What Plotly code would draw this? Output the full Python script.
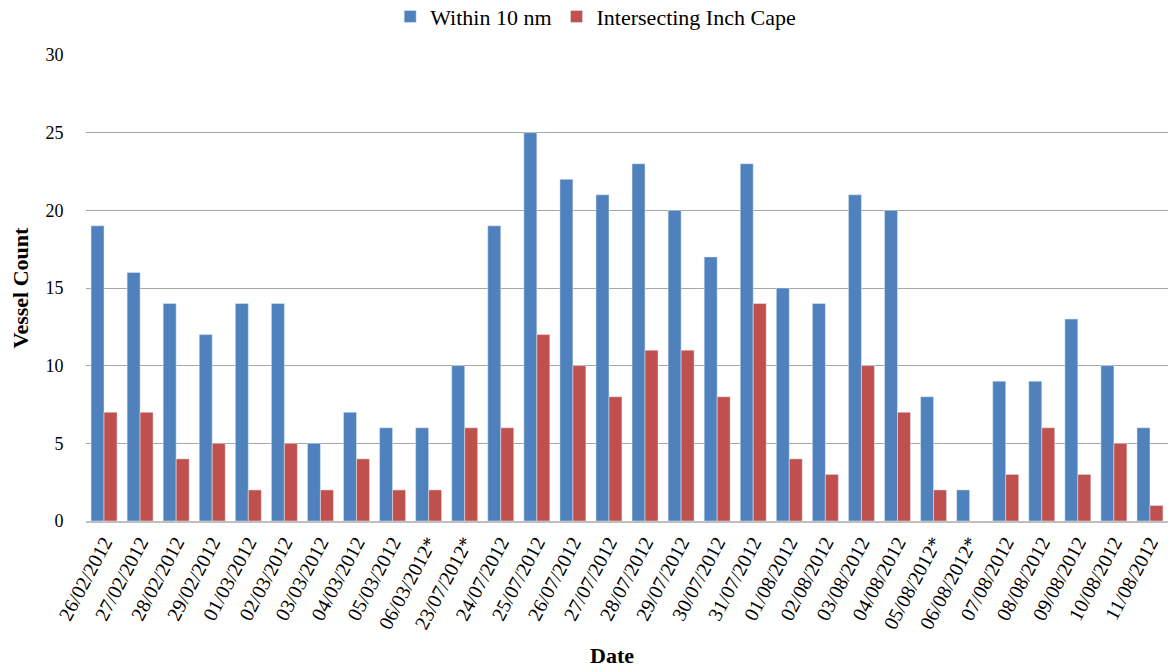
import plotly.graph_objects as go

dates = ["26/02/2012", "27/02/2012", "28/02/2012", "29/02/2012", "01/03/2012",
         "02/03/2012", "03/03/2012", "04/03/2012", "05/03/2012", "06/03/2012*",
         "23/07/2012*", "24/07/2012", "25/07/2012", "26/07/2012", "27/07/2012",
         "28/07/2012", "29/07/2012", "30/07/2012", "31/07/2012", "01/08/2012",
         "02/08/2012", "03/08/2012", "04/08/2012", "05/08/2012*", "06/08/2012*",
         "07/08/2012", "08/08/2012", "09/08/2012", "10/08/2012", "11/08/2012"]
within_10nm = [19, 16, 14, 12, 14, 14, 5, 7, 6, 6,
               10, 19, 25, 22, 21, 23, 20, 17, 23, 15,
               14, 21, 20, 8, 2, 9, 9, 13, 10, 6]
intersecting = [7, 7, 4, 5, 2, 5, 2, 4, 2, 2,
                6, 6, 12, 10, 8, 11, 11, 8, 14, 4,
                3, 10, 7, 2, None, 3, 6, 3, 5, 1]

FONT = "Liberation Serif"
W, H = 1168, 669
L, R, T, B = 86, 0, 55, 148

fig = go.Figure()
fig.add_trace(go.Bar(
    x=dates, y=within_10nm, name="Within 10 nm",
    marker=dict(color="#4F81BD"),
))
fig.add_trace(go.Bar(
    x=dates, y=intersecting, name="Intersecting Inch Cape",
    marker=dict(color="#C0504D"),
))

plot_w = W - L - R
plot_h = H - T - B

fig.update_layout(
    width=W, height=H,
    margin=dict(l=L, r=R, t=T, b=B, autoexpand=False),
    paper_bgcolor="white", plot_bgcolor="white",
    barmode="group", bargap=0.28, bargroupgap=0,
    font=dict(family=FONT, size=17, color="#000000"),
    legend=dict(orientation="h", xref="container", x=0.51, xanchor="center",
                yref="container", y=0.975, yanchor="middle",
                font=dict(family=FONT, size=22), itemwidth=30, traceorder="normal"),
    xaxis=dict(
        tickangle=-62, tickfont=dict(family=FONT, size=20, color="#000000"),
        showline=True, linecolor="#BFBFBF", linewidth=2,
        ticks="", automargin=False,
    ),
    yaxis=dict(
        range=[0, 30], dtick=5, showgrid=True, gridcolor="#A6A6A6", gridwidth=1,
        tickfont=dict(family=FONT, size=18, color="#000000"), ticks="outside", ticklen=18,
        tickcolor="rgba(0,0,0,0)", zeroline=False,
        title=dict(text="<b>Vessel Count</b>", font=dict(family=FONT, size=22), standoff=10),
        automargin=False,
    ),
    annotations=[dict(
        text="<b>Date</b>", xref="paper", yref="paper",
        x=(612 - L) / plot_w, y=-(655 - (H - B)) / plot_h,
        xanchor="center", yanchor="middle",
        showarrow=False, font=dict(family=FONT, size=22, color="#000000"),
    )],
)

fig.write_html("out.html")
